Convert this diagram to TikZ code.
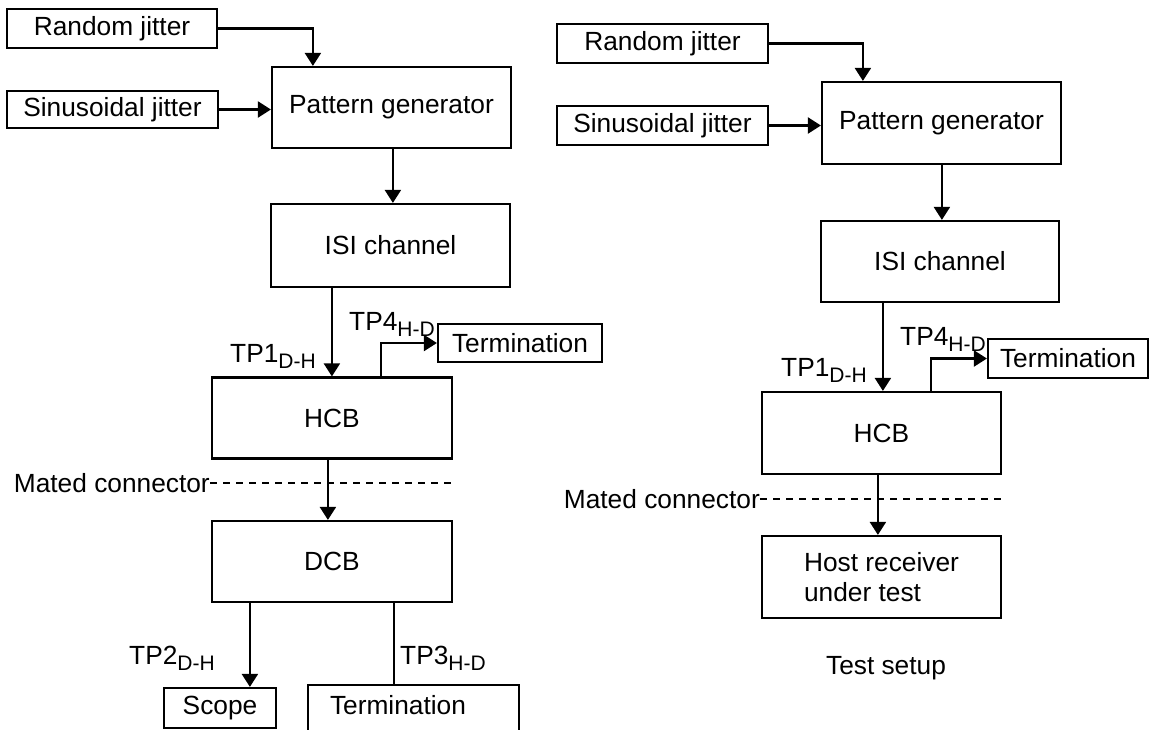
\documentclass[tikz,border=0pt]{standalone}
\usepackage{fontspec}
\setmainfont{Liberation Sans}
\usetikzlibrary{arrows.meta}
\newcommand{\tplabel}[2]{#1\raisebox{-6.5pt}{\fontsize{21}{24}\selectfont #2}}
\begin{document}
\begin{tikzpicture}[x=1pt,y=-1pt,
  every node/.style={font=\fontsize{26.3}{30}\selectfont},
  box/.style={draw, line width=2.2pt, inner sep=0pt, align=center},
  wire/.style={line width=2.2pt},
  arr/.style={wire, -{Triangle[length=13pt,width=16pt]}},
  matedline/.style={line width=1.6pt, dash pattern=on 7pt off 6pt},
  lbl/.style={inner sep=0pt, anchor=base west}]
\fill[white] (0,0) rectangle (1150,729);
\useasboundingbox (0,0) rectangle (1150,729);

% ---------- left setup ----------
\node[box, minimum width=210pt, minimum height=39pt] (rj1) at (112,28.5) {Random jitter};
\node[box, minimum width=211pt, minimum height=37pt] (sj1) at (112.5,109.5) {Sinusoidal jitter};
\node[box, minimum width=239pt, minimum height=81pt] (pg1) at (391.5,107.5) {Pattern generator};
\node[box, minimum width=239pt, minimum height=83pt] (isi1) at (390.5,245.5) {ISI channel};
\node[box, minimum width=164pt, minimum height=38pt] (term1) at (520,343) {Termination};
\node[box, minimum width=240pt, minimum height=81pt] (hcb1) at (332,418) {HCB};
\node[box, minimum width=240pt, minimum height=81pt] (dcb1) at (332,561.5) {DCB};
\node[box, minimum width=112pt, minimum height=40pt] (scope) at (220,708) {Scope};
\node[box, anchor=north, text width=167pt, inner xsep=22pt, align=left,
      text height=19pt, text depth=50pt, inner ysep=10pt] (term2) at (413.5,684) {Termination};

\node[lbl] (tp1a) at (230,362) {\tplabel{TP1}{D-H}};
\node[lbl] (tp4a) at (349,330) {\tplabel{TP4}{H-D}};
\node[lbl] (tp2) at (129,664) {\tplabel{TP2}{D-H}};
\node[lbl] (tp3) at (400,664) {\tplabel{TP3}{H-D}};
\node[inner sep=0pt, anchor=east] (mc1) at (210,483) {Mated connector};

\draw[arr] (rj1.east) -| ([xshift=42pt]pg1.north west);
\draw[arr] (sj1.east) -- (sj1.east -| pg1.west);
\draw[arr] ([xshift=122pt]pg1.south west) -- ([xshift=123pt]isi1.north west);
\draw[arr] ([xshift=62pt]isi1.south west) -- ([xshift=121pt]hcb1.north west);
\draw[arr] ([xshift=170pt]hcb1.north west) |- (term1.west);
\draw[arr] ([xshift=117pt]hcb1.south west) -- ([xshift=117pt]dcb1.north west);
\draw[arr] ([xshift=39pt]dcb1.south west) -- ([xshift=87pt]scope.north west);
\draw[wire] ([xshift=183pt]dcb1.south west) -- ([xshift=87pt]term2.north west);
\draw[matedline] (mc1.east) -- (mc1.east -| hcb1.east);

% ---------- right setup ----------
\node[box, minimum width=211pt, minimum height=39pt] (rj2) at (662.5,43.5) {Random jitter};
\node[box, minimum width=211pt, minimum height=39pt] (sj2) at (662.5,125.5) {Sinusoidal jitter};
\node[box, minimum width=239pt, minimum height=82pt] (pg2) at (941.5,123) {Pattern generator};
\node[box, minimum width=238pt, minimum height=81pt] (isi2) at (940,261.5) {ISI channel};
\node[box, minimum width=160pt, minimum height=39pt] (term3) at (1068,358.5) {Termination};
\node[box, minimum width=239pt, minimum height=82pt] (hcb2) at (881.5,433) {HCB};
\node[box, minimum width=239pt, minimum height=82pt, align=left] (host) at (881.5,577) {Host receiver\\under test};
\node (setup) at (886,668) {Test setup};

\node[lbl] (tp1b) at (781,376) {\tplabel{TP1}{D-H}};
\node[lbl] (tp4b) at (900,345) {\tplabel{TP4}{H-D}};
\node[inner sep=0pt, anchor=east] (mc2) at (760,499) {Mated connector};

\draw[arr] (rj2.east) -| ([xshift=42pt]pg2.north west);
\draw[arr] (sj2.east) -- (sj2.east -| pg2.west);
\draw[arr] ([xshift=121pt]pg2.south west) -- ([xshift=122pt]isi2.north west);
\draw[arr] ([xshift=63pt]isi2.south west) -- ([xshift=122pt]hcb2.north west);
\draw[arr] ([xshift=170pt]hcb2.north west) |- (term3.west);
\draw[arr] ([xshift=117pt]hcb2.south west) -- ([xshift=117pt]host.north west);
\draw[matedline] (mc2.east) -- (mc2.east -| hcb2.east);
\end{tikzpicture}
\end{document}
